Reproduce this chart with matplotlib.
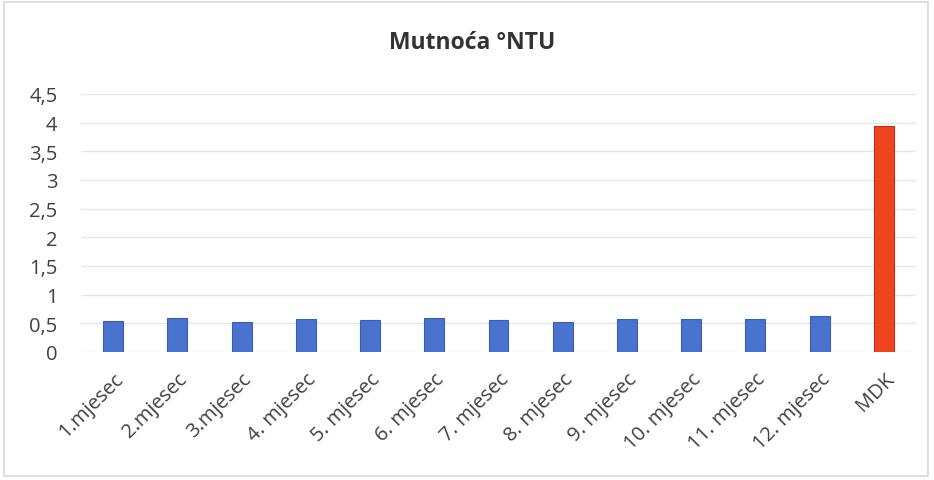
import matplotlib
matplotlib.use("Agg")
import matplotlib.pyplot as plt
from matplotlib.patches import Rectangle

categories = ["1.mjesec", "2.mjesec", "3.mjesec", "4. mjesec", "5. mjesec", "6. mjesec",
              "7. mjesec", "8. mjesec", "9. mjesec", "10. mjesec", "11. mjesec", "12. mjesec", "MDK"]
values = [0.54, 0.59, 0.53, 0.58, 0.55, 0.59, 0.56, 0.53, 0.58, 0.57, 0.57, 0.62, 3.95]
yticks = [0, 0.5, 1, 1.5, 2, 2.5, 3, 3.5, 4, 4.5]
ytick_labels = ["0", "0,5", "1", "1,5", "2", "2,5", "3", "3,5", "4", "4,5"]

plt.rcParams['font.family'] = ['Open Sans', 'DejaVu Sans']

fig = plt.figure(figsize=(9.34, 4.81), dpi=100)
fig.patches.append(Rectangle((0.004, 0.008), 0.99, 0.985, transform=fig.transFigure,
                             fill=False, edgecolor="#d9d9d9", linewidth=1.2))
ax = fig.add_axes([81/934, 1-353/481, 835/934, (353-95)/481])

colors = ["#4a72cf"] * 12 + ["#ee4420"]
edges = ["#3a5fb5"] * 12 + ["#c83010"]
x = range(len(categories))
ax.bar(x, values, width=0.31, color=colors, edgecolor=edges, linewidth=0.8, zorder=3)

ax.set_ylim(0, 4.5)
ax.set_xlim(-0.5, len(categories) - 0.5)
ax.set_yticks(yticks)
ax.set_yticklabels(ytick_labels, fontsize=14.5, color="#404040")
ax.set_xticks(list(x))
ax.set_xticklabels(categories, rotation=45, ha="right", rotation_mode="anchor",
                   fontsize=14.5, color="#404040")
ax.tick_params(axis="y", length=0, pad=17)
ax.tick_params(axis="x", length=0, pad=12)
ax.grid(axis="y", color="#e6e6e6", linewidth=1, zorder=0)
for s in ax.spines.values():
    s.set_visible(False)

fig.text(472/934, 1-43/481, "Mutnoća °NTU", ha="center", va="center",
         fontsize=16.5, fontweight="bold", color="#333333")

fig.savefig("out.png", dpi=100, facecolor="white")
